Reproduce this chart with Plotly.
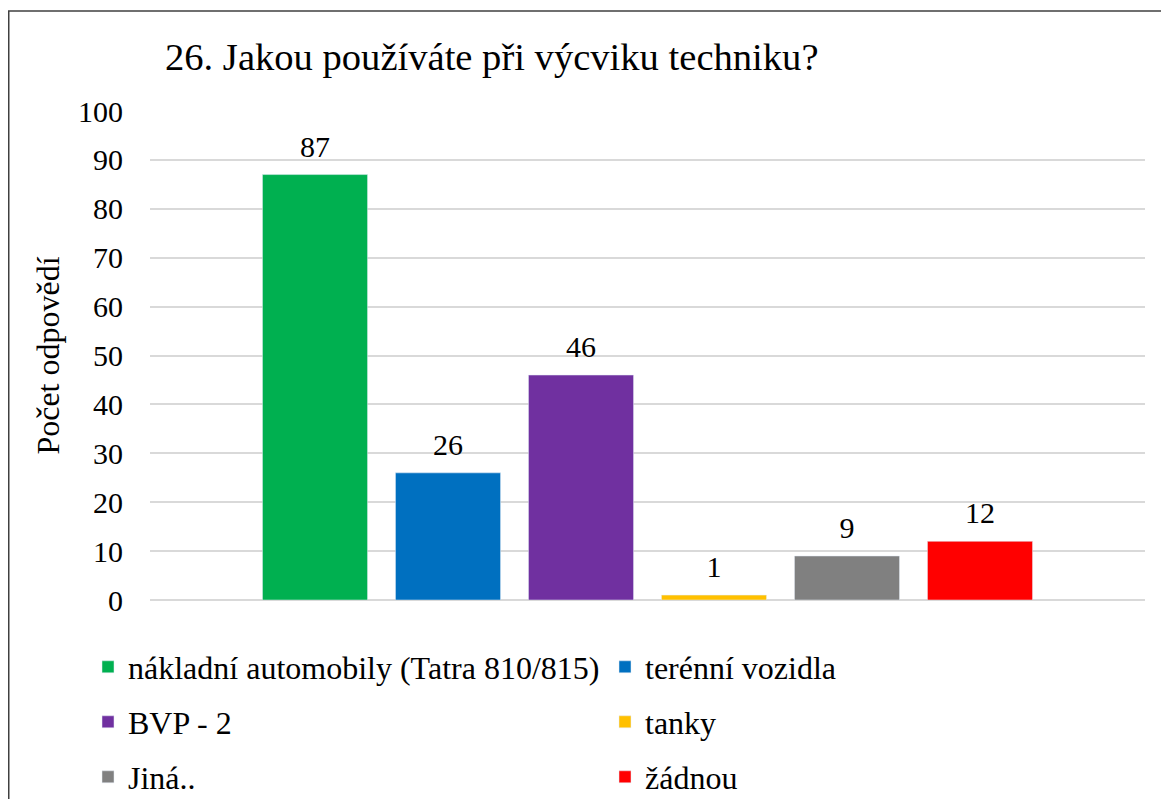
import plotly.graph_objects as go

series_names = ["nákladní automobily (Tatra 810/815)", "terénní vozidla", "BVP - 2",
                "tanky", "Jiná..", "žádnou"]
series_values = [87, 26, 46, 1, 9, 12]
series_colors = ["#00B050", "#0070C0", "#7030A0", "#FFC000", "#808080", "#FF0000"]
y_ticks = [0, 10, 20, 30, 40, 50, 60, 70, 80, 90, 100]

FONT = "Liberation Serif, Times New Roman, serif"
W, H = 1169, 799
# the page body adds an 8px offset, so figure coords = page coords - 8
L, R, T, B = 142, 32, 103, 207
PW, PH = W - L - R, H - T - B
GAP = 0.198


def px_x(x):
    return (x - L) / PW


def px_y(y):
    return (H - B - y) / PH


# legend rows: pairs of series per row
legend_ids = ["legend", "legend", "legend2", "legend2", "legend3", "legend3"]
row_y = [659, 714, 769]

fig = go.Figure()
for name, val, col, lg in zip(series_names, series_values, series_colors, legend_ids):
    fig.add_trace(go.Bar(
        x=[""], y=[val], name=name, marker_color=col, legend=lg,
        offsetgroup=name,
    ))

# data labels, sitting a bit higher above the bars than plotly's default
for name, val in zip(series_names, series_values):
    fig.add_trace(go.Scatter(
        x=[""], y=[val], mode="markers+text", text=[str(val)], textposition="top center",
        marker=dict(size=15, opacity=0), showlegend=False, hoverinfo="skip",
        offsetgroup=name, cliponaxis=False,
        textfont=dict(family=FONT, size=30, color="#000000"),
    ))

legend_style = dict(
    orientation="h", x=px_x(80), xanchor="left", yanchor="middle",
    font=dict(family=FONT, size=32, color="#000000"),
    entrywidth=472, entrywidthmode="pixels", bgcolor="rgba(0,0,0,0)",
    itemclick=False, itemdoubleclick=False,
)

fig.update_layout(
    width=W, height=H,
    margin=dict(l=L, r=R, t=T, b=B, autoexpand=False),
    paper_bgcolor="white", plot_bgcolor="white",
    barmode="group", bargap=GAP, bargroupgap=0.21,
    scattermode="group", scattergap=GAP,
    font=dict(family=FONT, size=30, color="#000000"),
    title=dict(text="26. Jakou používáte při výcviku techniku?", xref="container",
               x=157 / W, xanchor="left", yref="container", y=1 - 48 / H, yanchor="middle",
               font=dict(family=FONT, size=38.6, color="#000000")),
    showlegend=True,
    legend=dict(legend_style, y=px_y(row_y[0])),
    legend2=dict(legend_style, y=px_y(row_y[1])),
    legend3=dict(legend_style, y=px_y(row_y[2])),
    shapes=[dict(type="rect", xref="paper", yref="paper",
                 x0=px_x(0.75), x1=px_x(1200), y0=px_y(830), y1=px_y(3),
                 line=dict(color="#404040", width=1.5), layer="below")],
)
fig.update_xaxes(showticklabels=False, showgrid=False, zeroline=False, showline=False)
fig.update_yaxes(
    range=[0, 100], tickvals=y_ticks, showgrid=True, gridcolor="#D9D9D9", gridwidth=1.5,
    zeroline=True, zerolinecolor="#D9D9D9", zerolinewidth=1.5, showline=False,
    tickfont=dict(family=FONT, size=30, color="#000000"), ticks="", ticklen=0,
    ticklabelstandoff=26, automargin=False,
    title=dict(text="Počet odpovědí", font=dict(family=FONT, size=32, color="#000000"),
               standoff=8),
)

fig.write_html("out.html")
